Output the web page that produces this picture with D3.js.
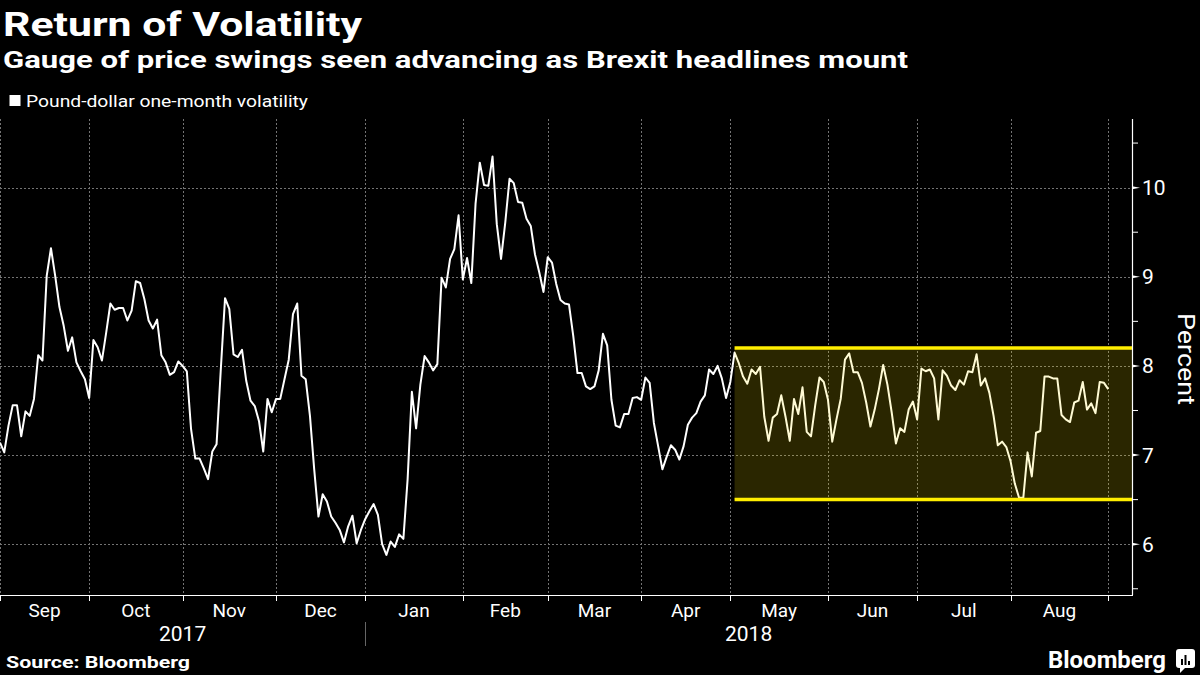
<!DOCTYPE html>
<html><head><meta charset="utf-8">
<script src="https://cdn.jsdelivr.net/npm/d3@7"></script>
<style>html,body{margin:0;padding:0;background:#000;} svg{display:block;}</style>
</head><body>
<svg id="chart" width="1200" height="675"></svg>
<script>
// ---------------- data ----------------
const title = "Return of Volatility";
const subtitle = "Gauge of price swings seen advancing as Brexit headlines mount";
const seriesName = "Pound-dollar one-month volatility";
const sourceText = "Source: Bloomberg";
const brandText = "Bloomberg";
const yAxisTitle = "Percent";
const startDate = "2017-09-01";           // first trading day of the series
const monthLabels = ["Sep","Oct","Nov","Dec","Jan","Feb","Mar","Apr","May","Jun","Jul","Aug"];
const yearLabels = ["2017","2018"];
const yTicks = [6, 7, 8, 9, 10];
const yMinorTicks = [5.5, 6.5, 7.5, 8.5, 9.5, 10.5];
const bandStart = "2018-05-02";
const bandLow = 6.5;
const bandHigh = 8.2;
const volatility = [
  7.14,7.03,7.33,7.56,7.56,7.21,7.49,7.44,7.63,8.12,
  8.06,9.01,9.32,9.01,8.66,8.45,8.17,8.32,8.04,7.94,
  7.85,7.64,8.29,8.21,8.06,8.37,8.70,8.63,8.65,8.65,
  8.51,8.62,8.95,8.93,8.75,8.51,8.42,8.52,8.12,8.04,
  7.90,7.93,8.05,8.00,7.94,7.29,6.96,6.96,6.85,6.73,
  7.04,7.12,7.96,8.76,8.64,8.13,8.10,8.18,7.83,7.61,
  7.55,7.38,7.04,7.63,7.48,7.63,7.63,7.85,8.07,8.58,
  8.70,7.89,7.85,7.44,6.84,6.31,6.56,6.48,6.31,6.24,
  6.16,6.02,6.20,6.32,6.01,6.16,6.28,6.37,6.45,6.33,
  6.00,5.88,6.03,5.97,6.11,6.06,6.73,7.71,7.30,7.79,
  8.11,8.04,7.95,8.02,8.99,8.88,9.20,9.31,9.69,8.97,
  9.21,8.93,9.82,10.28,10.03,10.02,10.35,9.59,9.20,9.61,
  10.10,10.05,9.84,9.83,9.65,9.57,9.25,9.05,8.83,9.22,
  9.16,8.92,8.74,8.70,8.69,8.34,7.92,7.92,7.77,7.74,
  7.77,7.95,8.36,8.23,7.62,7.33,7.31,7.46,7.46,7.64,
  7.65,7.62,7.87,7.81,7.36,7.10,6.84,6.98,7.11,7.06,
  6.95,7.10,7.34,7.42,7.47,7.60,7.67,7.96,7.91,8.00,
  7.86,7.64,7.82,8.15,8.03,7.88,7.80,7.96,7.91,7.99,
  7.43,7.16,7.42,7.46,7.67,7.43,7.16,7.63,7.46,7.76,
  7.26,7.21,7.56,7.87,7.82,7.62,7.15,7.40,7.63,8.07,
  8.14,7.93,7.93,7.81,7.59,7.32,7.51,7.74,8.01,7.79,
  7.48,7.13,7.30,7.26,7.51,7.60,7.40,7.97,7.94,7.96,
  7.86,7.40,7.95,7.89,7.78,7.73,7.84,7.79,7.94,7.93,
  8.13,7.78,7.86,7.70,7.44,7.11,7.15,7.09,6.93,6.68,
  6.52,6.52,7.03,6.76,7.25,7.27,7.88,7.88,7.86,7.86,
  7.45,7.40,7.37,7.59,7.61,7.82,7.51,7.58,7.47,7.82,
  7.81,7.74
];

// ---------------- build trading-day calendar ----------------
const parse = d3.timeParse("%Y-%m-%d");
const dates = [];
{
  let d = parse(startDate);
  while (dates.length < volatility.length + 10) {
    const wd = d.getDay();
    if (wd !== 0 && wd !== 6) dates.push(d);
    d = d3.timeDay.offset(d, 1);
  }
}
const series = volatility.map((v, i) => ({ i, date: dates[i], v }));

// month start indices
const monthStarts = [];
dates.forEach((d, i) => {
  if (i === 0 || d.getMonth() !== dates[i - 1].getMonth()) monthStarts.push(i);
});

// ---------------- layout ----------------
const svg = d3.select("#chart");
const W = 1200, H = 675;
const plot = { left: 0, right: 1132, top: 119, bottom: 595 };
const extraDays = 5.6;
const x = d3.scaleLinear().domain([0, volatility.length - 1 + extraDays]).range([plot.left, plot.right]);
const y = d3.scaleLinear().domain([5.43, 10.77]).range([plot.bottom, plot.top]);

svg.append("rect").attr("width", W).attr("height", H).attr("fill", "#000");

const FONT = "Roboto, 'Open Sans', 'DejaVu Sans', sans-serif";

// Title
svg.append("text").attr("x", 3).attr("y", 36).text(title)
  .attr("fill", "#fff").attr("font-family", FONT).attr("font-weight", 700)
  .attr("font-size", 33).attr("textLength", 359).attr("lengthAdjust", "spacingAndGlyphs");
svg.append("text").attr("x", 3).attr("y", 68).text(subtitle)
  .attr("fill", "#fff").attr("font-family", FONT).attr("font-weight", 700)
  .attr("font-size", 23).attr("textLength", 905).attr("lengthAdjust", "spacingAndGlyphs");

// Legend
svg.append("rect").attr("x", 9.5).attr("y", 95).attr("width", 11).attr("height", 11).attr("fill", "#fff");
svg.append("text").attr("x", 26).attr("y", 106.5).text(seriesName)
  .attr("fill", "#fff").attr("font-family", FONT).attr("font-size", 16)
  .attr("textLength", 282).attr("lengthAdjust", "spacingAndGlyphs");

// Gridlines
const grid = svg.append("g").attr("stroke", "#909090").attr("stroke-width", 1)
  .attr("stroke-dasharray", "2,2").attr("opacity", 0.8);
grid.selectAll("line.h").data(yTicks).join("line")
  .attr("x1", plot.left).attr("x2", plot.right)
  .attr("y1", d => Math.round(y(d)) + 0.5).attr("y2", d => Math.round(y(d)) + 0.5);
grid.selectAll("line.v").data(monthStarts.filter(i => x(i) < plot.right)).join("line")
  .attr("x1", d => Math.round(x(d)) + 0.5).attr("x2", d => Math.round(x(d)) + 0.5)
  .attr("y1", plot.top).attr("y2", plot.bottom);

// Line
const line = d3.line().x(d => x(d.i)).y(d => y(d.v));
svg.append("path").datum(series).attr("d", line)
  .attr("fill", "none").attr("stroke", "#fff").attr("stroke-width", 2)
  .attr("stroke-linejoin", "round");

// Band overlay
const bandIdx = dates.findIndex(d => +d === +parse(bandStart));
svg.append("rect")
  .attr("x", x(bandIdx)).attr("y", y(bandHigh))
  .attr("width", plot.right - x(bandIdx)).attr("height", y(bandLow) - y(bandHigh))
  .attr("fill", "#ffe600").attr("fill-opacity", 0.165);
svg.selectAll("line.band").data([bandHigh, bandLow]).join("line")
  .attr("x1", x(bandIdx)).attr("x2", plot.right)
  .attr("y1", d => y(d)).attr("y2", d => y(d))
  .attr("stroke", "#ffee00").attr("stroke-width", 3.5);

// Y axis (right)
const yAxisG = svg.append("g");
yAxisG.append("line").attr("x1", plot.right + 0.5).attr("x2", plot.right + 0.5)
  .attr("y1", plot.top).attr("y2", plot.bottom).attr("stroke", "#fff").attr("stroke-width", 1.2);
yAxisG.selectAll("path.tick").data(yTicks).join("path")
  .attr("d", d => `M${plot.right},${y(d) - 1.5}L${plot.right + 8},${y(d)}L${plot.right},${y(d) + 1.5}Z`)
  .attr("fill", "#fff");
yAxisG.selectAll("line.minor").data(yMinorTicks).join("line")
  .attr("x1", plot.right).attr("x2", plot.right + 6)
  .attr("y1", d => y(d)).attr("y2", d => y(d))
  .attr("stroke", "#fff").attr("stroke-width", 1);
yAxisG.selectAll("text").data(yTicks).join("text")
  .attr("x", plot.right + 10).attr("y", d => y(d)).attr("dy", "0.36em")
  .text(d => d3.format("d")(d))
  .attr("fill", "#fff").attr("font-family", FONT).attr("font-size", 21);
svg.append("text").attr("transform", `translate(1178,359) rotate(90)`)
  .attr("text-anchor", "middle").text(yAxisTitle)
  .attr("fill", "#fff").attr("font-family", FONT).attr("font-size", 23)
  .attr("textLength", 92).attr("lengthAdjust", "spacingAndGlyphs");

// X axis
const xAxisG = svg.append("g");
xAxisG.append("line").attr("x1", plot.left).attr("x2", plot.right + 1)
  .attr("y1", plot.bottom + 0.5).attr("y2", plot.bottom + 0.5).attr("stroke", "#fff").attr("stroke-width", 1.2);
xAxisG.selectAll("line.tick").data(monthStarts.filter(i => x(i) < plot.right)).join("line")
  .attr("x1", d => Math.round(x(d)) + 0.5).attr("x2", d => Math.round(x(d)) + 0.5)
  .attr("y1", plot.bottom).attr("y2", plot.bottom + 6)
  .attr("stroke", "#fff").attr("stroke-width", 1);
const monthMid = monthLabels.map((m, k) => ({ m, c: (x(monthStarts[k]) + x(monthStarts[k + 1])) / 2 }));
xAxisG.selectAll("text.month").data(monthMid).join("text")
  .attr("x", d => d.c).attr("y", 617).attr("text-anchor", "middle").text(d => d.m)
  .attr("fill", "#fff").attr("font-family", FONT).attr("font-size", 19);
// years
const janIdx = monthStarts[monthLabels.indexOf("Jan")];
const yearPos = [(plot.left + x(janIdx)) / 2, (x(janIdx) + plot.right) / 2];
xAxisG.selectAll("text.year").data(yearLabels).join("text")
  .attr("x", (d, k) => yearPos[k]).attr("y", 641).attr("text-anchor", "middle").text(d => d)
  .attr("fill", "#fff").attr("font-family", FONT).attr("font-size", 21);
xAxisG.append("line").attr("x1", Math.round(x(janIdx)) + 0.5).attr("x2", Math.round(x(janIdx)) + 0.5)
  .attr("y1", 622).attr("y2", 646).attr("stroke", "#666").attr("stroke-width", 1);

// Footer
svg.append("text").attr("x", 6).attr("y", 668).text(sourceText)
  .attr("fill", "#fff").attr("font-family", FONT).attr("font-weight", 700).attr("font-size", 16)
  .attr("textLength", 184).attr("lengthAdjust", "spacingAndGlyphs");
svg.append("text").attr("x", 1048).attr("y", 668).text(brandText)
  .attr("fill", "#fff").attr("font-family", FONT).attr("font-weight", 700).attr("font-size", 23)
  .attr("textLength", 118).attr("lengthAdjust", "spacingAndGlyphs");
const logo = svg.append("g").attr("transform", "translate(1176,649)");
logo.append("rect").attr("width", 19).attr("height", 19).attr("rx", 3).attr("fill", "#fff");
logo.append("path").attr("d", "M4,19 L4,24 L9,19 Z").attr("fill", "#fff");
[[5,10,2,6],[8.5,6,2,10],[12,12,2,4]].forEach(b =>
  logo.append("rect").attr("x", b[0]).attr("y", b[1]).attr("width", b[2]).attr("height", b[3]).attr("fill", "#000"));
</script>
</body></html>
